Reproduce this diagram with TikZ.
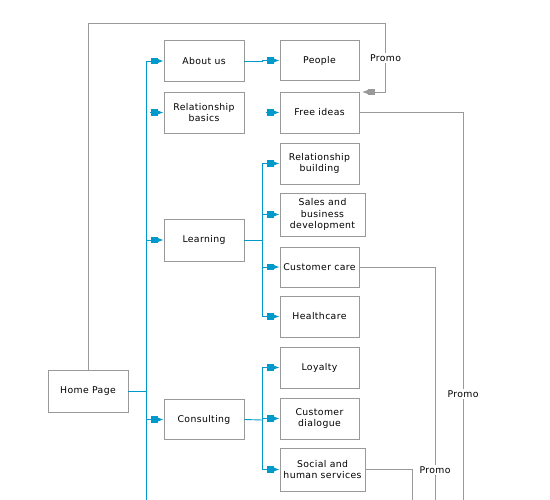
\documentclass[tikz,border=0pt]{standalone}
\usepackage{fontspec}
\setmainfont{DejaVu Sans}[LetterSpace=4]
\usetikzlibrary{arrows.meta}
\definecolor{lblue}{HTML}{0099CC}
\definecolor{lgray}{HTML}{999999}
\tikzset{
  box/.style={draw=lgray, line width=0.9pt, inner sep=0pt, align=center,
    font=\fontsize{9.3}{11.5}\selectfont, text=black},
  bl/.style={draw=lblue, line width=0.9pt},
  gl/.style={draw=lgray, line width=0.9pt},
  barr/.style={bl, -{Rectangle[length=7pt,width=6.5pt,sep=0pt]Latex[length=6pt,width=4.5pt]}},
  garr/.style={gl, -{Rectangle[length=7pt,width=6.5pt,sep=0pt]Latex[length=6pt,width=4.5pt]}},
  lab/.style={fill=white, inner sep=1.5pt, font=\fontsize{9.3}{11}\selectfont}
}
\begin{document}
\begin{tikzpicture}[x=1pt,y=-1pt]
\useasboundingbox (0,0) rectangle (550,500);
% boxes
\node[box, minimum width=80pt, minimum height=42pt] (home) at (88,391) {Home Page};
\node[box, minimum width=80pt, minimum height=41pt] (about) at (204,61) {About us};
\node[box, minimum width=79pt, minimum height=40pt] (people) at (319.5,60.5) {People};
\node[box, minimum width=80pt, minimum height=41pt] (relb) at (204,112.5) {Relationship\\basics};
\node[box, minimum width=79pt, minimum height=41pt] (free) at (319.5,112.5) {Free ideas};
\node[box, minimum width=80pt, minimum height=42pt] (learn) at (204,240) {Learning};
\node[box, minimum width=79pt, minimum height=41pt] (relbuild) at (319.5,163.5) {Relationship\\building};
\node[box, minimum width=85pt, minimum height=43pt] (sales) at (322.5,214.5) {Sales and\\business\\development};
\node[box, minimum width=79pt, minimum height=40pt] (care) at (319.5,267) {Customer care};
\node[box, minimum width=79pt, minimum height=41pt] (health) at (319.5,316.5) {Healthcare};
\node[box, minimum width=80pt, minimum height=40pt] (consult) at (204,419.5) {Consulting};
\node[box, minimum width=79pt, minimum height=41pt] (loyal) at (319.5,367.5) {Loyalty};
\node[box, minimum width=79pt, minimum height=41pt] (dialog) at (319.5,418.5) {Customer\\dialogue};
\node[box, minimum width=85pt, minimum height=43pt] (social) at (322.5,469.5) {Social and\\human services};
% coordinates
\coordinate (trunkbot) at (146,500);
\coordinate (lb) at (262,240);
\coordinate (cb) at (262,420);
\coordinate (relbfree) at (150,112.5);
\coordinate (freefree) at (266,112.5);
\coordinate (loopa) at (88,23);
\coordinate (loopb) at (385.5,23);
\coordinate (loopc) at (385.5,92);
\coordinate (loopend) at (362,92);
\coordinate (freex) at (463,112.5);
\coordinate (freebot) at (463,500);
\coordinate (carex) at (435,267);
\coordinate (carebot) at (435,500);
\coordinate (socx) at (412,469.5);
\coordinate (socbot) at (412,500);
% blue connectors
\draw[barr] (trunkbot) |- (about.west);
\draw[bl] (home.east) -- (home.east -| trunkbot);
\draw[barr] (learn.west -| trunkbot) -- (learn.west);
\draw[barr] (consult.west -| trunkbot) -- (consult.west);
\draw[barr] (relbfree) -- (relb.west);
\draw[barr] (freefree) -- (free.west);
\draw[barr] (about.east) -- ++(18,0) |- (people.west);
\draw[bl] (learn.east) -- (lb);
\draw[barr] (lb) |- (relbuild.west);
\draw[barr] (lb) |- (sales.west);
\draw[barr] (lb) |- (care.west);
\draw[barr] (lb) |- (health.west);
\draw[bl] (consult.east) -- (cb);
\draw[barr] (cb) |- (loyal.west);
\draw[barr] (cb) |- (dialog.west);
\draw[barr] (cb) |- (social.west);
% gray connectors
\draw[garr] (home.north) -- (loopa) -- (loopb) -- (loopc) -- (loopend);
\node[lab] (p1) at (385.5,58) {Promo};
\draw[gl] (free.east) -- (freex) -- (freebot);
\node[lab] (p2) at (463,394) {Promo};
\draw[gl] (care.east) -- (carex) -- (carebot);
\node[lab] (p3) at (435,470) {Promo};
\draw[gl] (social.east) -- (socx) -- (socbot);
\end{tikzpicture}
\end{document}
